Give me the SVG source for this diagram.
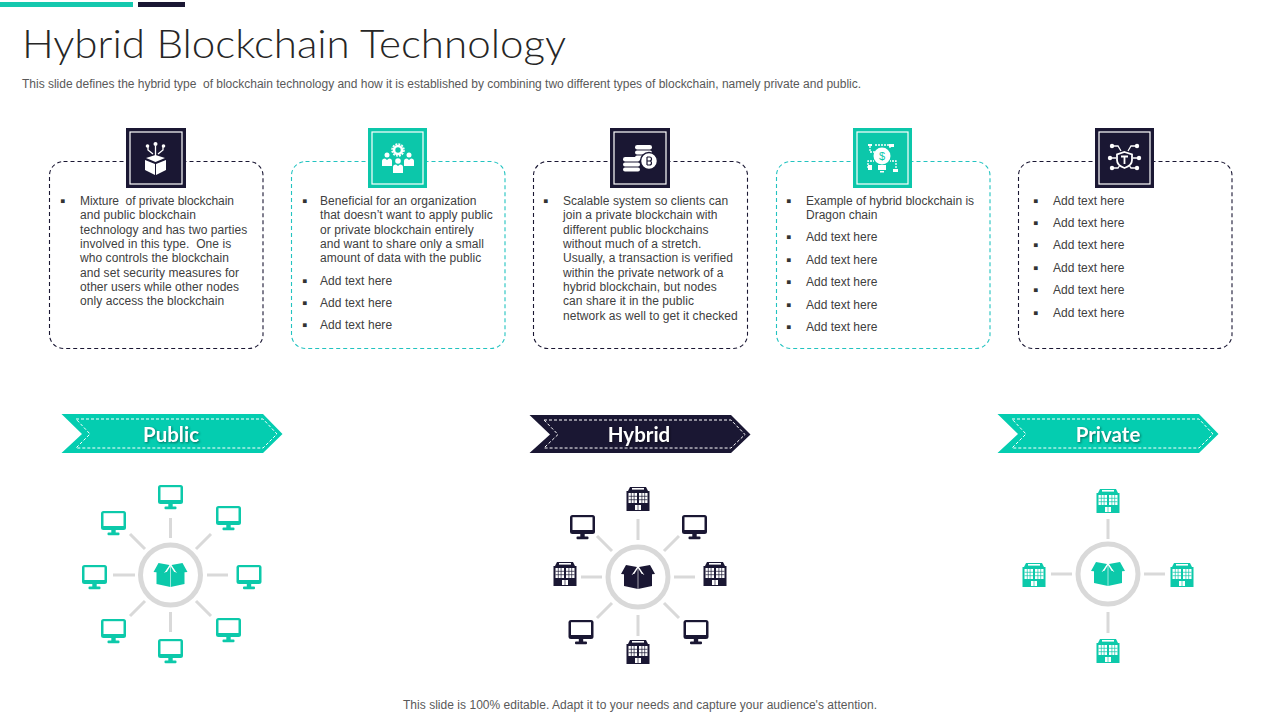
<svg xmlns="http://www.w3.org/2000/svg" width="1280" height="720" viewBox="0 0 1280 720">
<style>
text{font-family:"Liberation Sans",Arial,sans-serif;fill:#404040;font-size:12px;white-space:pre}
#card1 text,#card2 text,#card3 text{letter-spacing:.06px}
.b{font-size:15px;fill:#333}
.title{font-family:Lato,"Liberation Sans",sans-serif;font-weight:300;font-size:40px;fill:#262626}
.sub{fill:#595959}
.card{fill:#fff;stroke-width:1.1;stroke-dasharray:4 3}
.d{stroke:#1a1733}.t{stroke:#22c3c0}
.bg-d{fill:#1a1733}.bg-t{fill:#0cc7aa}
.inner{fill:none;stroke:#fff;stroke-width:1.2}
.ic{fill:#fff}.il{fill:none;stroke:#fff;stroke-width:1.3}
.banner-t{fill:#04cdb0}.banner-d{fill:#1a1733}
.bdash{fill:none;stroke:#fff;stroke-width:1;stroke-dasharray:3 2}
.blabel{font-family:Lato,"Liberation Sans",sans-serif;font-weight:700;font-size:20.500px;fill:#fff;text-anchor:middle;filter:drop-shadow(1px 1px 1px rgba(0,0,0,.45))}
.spoke{stroke:#d9d9d9;stroke-width:3;fill:none}
.ring{fill:#fff;stroke:#d9d9d9;stroke-width:5}
.teal{color:#0cc9aa}.dark{color:#1a1733}
</style>
<defs>
<g id="mon"><rect x="-12.500" y="-12" width="25" height="19" rx="2.500" fill="currentColor"/><rect x="-10" y="-9.800" width="20" height="12.800" fill="#fff"/><rect x="-2.200" y="7" width="4.400" height="3" fill="currentColor"/><rect x="-6" y="9.500" width="12" height="2.800" rx="1" fill="currentColor"/></g>
<g id="bld"><path d="M-8-12H8L10-8H-10Z" fill="currentColor"/><rect x="-6" y="-11" width="12" height="1.600" fill="#fff"/><rect x="-11.500" y="-8" width="23" height="20" fill="currentColor"/><g fill="#fff"><rect x="-9.500" y="-6" width="8.500" height="10"/><rect x="1" y="-6" width="8.500" height="10"/><rect x="-3" y="6" width="6" height="5"/></g><path d="M-9.500-2.700H-1M-9.500 .7H-1M-6.700-6V4M-3.900-6V4M1-2.700H9.500M1 .7H9.500M3.900-6V4M6.700-6V4M0 6V11" stroke="currentColor" stroke-width=".7" fill="none"/></g>
<g id="box"><path d="M-14-3H14V9L0 12-14 9Z" fill="currentColor"/><path d="M-12-12-1-10-6-2-17-3ZM12-12 1-10 6-2 17-3ZM0-9 5-1H-5Z" fill="currentColor"/><path d="M-6-2 0-10 6-2M0-10V12" stroke="#fff" stroke-width=".6" fill="none"/></g>
</defs>
<rect width="1280" height="720" fill="#fff"/>
<rect x="0" y="2" width="133" height="5" fill="#14c8ae"/>
<rect x="138" y="2" width="47" height="5" fill="#1a1733"/>
<text class="title" x="22" y="58" textLength="544" lengthAdjust="spacingAndGlyphs">Hybrid Blockchain Technology</text>
<text class="sub" x="22" y="88" textLength="839" lengthAdjust="spacing">This slide defines the hybrid type  of blockchain technology and how it is established by combining two different types of blockchain, namely private and public.</text>

<g id="connectors">
<path class="spoke" d="M113 575H135M207 575H228M170.500 518V538M170.500 612V632M130 534 145 549M196 549 211 534M130 616 145 601M196 601 211 616"/>
<path class="spoke" d="M581 577H602M674 577H695M638 519V540M638 615V636M597 536 612 551M664 551 679 536M597 618 612 603M664 603 679 618"/>
<path class="spoke" d="M1051 574H1072M1144 574H1165M1108 519V539M1108 612V633"/>
</g>

<g id="card1"><rect class="card d" x="49.500" y="161.500" width="213.500" height="187" rx="14"/><rect class="bg-d" x="126" y="128" width="60" height="60"/><rect class="inner" x="130" y="132" width="52" height="52"/>
<path class="ic" d="M145 160 155 164V175L145 170ZM166 160 156 164V175L166 170ZM146 158 155.500 155 165 158 155.500 162Z"/><path class="il" d="M155.500 146V156M148 147V150L153 154M163 147V150L158 154"/><g class="ic"><circle cx="155.500" cy="144" r="2"/><circle cx="147.500" cy="146" r="1.800"/><circle cx="163.500" cy="146" r="1.800"/></g>
<text class="b" x="60" y="206">▪</text>
<text x="80" y="205" textLength="154" lengthAdjust="spacing">Mixture  of private blockchain</text><text x="80" y="219">and public blockchain</text><text x="80" y="233.500">technology and has two parties</text><text x="80" y="248">involved in this type.  One is</text><text x="80" y="262">who controls the blockchain</text><text x="80" y="276.500">and set security measures for</text><text x="80" y="291">other users while other nodes</text><text x="80" y="305">only access the blockchain</text></g>

<g id="card2"><rect class="card t" x="291.500" y="161.500" width="213.500" height="187" rx="14"/><rect class="bg-t" x="368" y="128" width="59" height="60"/><rect class="inner" x="372" y="132" width="51" height="52"/>
<circle cx="398" cy="150" r="4" fill="none" stroke="#fff" stroke-width="2.600"/><circle cx="398" cy="150" r="6" fill="none" stroke="#fff" stroke-width="1.500" stroke-dasharray="2 1.100"/>
<g class="ic"><circle cx="387" cy="155" r="2.500"/><path d="M382 166V161Q382 158.500 385 158.500L387 160 389 158.500Q392 158.500 392 161V166Z"/><circle cx="409" cy="155" r="2.500"/><path d="M404 166V161Q404 158.500 407 158.500L409 160 411 158.500Q414 158.500 414 161V166Z"/><circle cx="398" cy="161" r="2.800"/><path d="M393 173V167Q393 164.500 396 164.500L398 166 400 164.500Q403 164.500 403 167V173Z"/></g>
<text class="b" x="302" y="206">▪</text>
<text x="320" y="205">Beneficial for an organization</text><text x="320" y="219">that doesn’t want to apply public</text><text x="320" y="233.500">or private blockchain entirely</text><text x="320" y="248">and want to share only a small</text><text x="320" y="262">amount of data with the public</text>
<text class="b" x="302" y="286">▪</text><text x="320" y="285">Add text here</text><text class="b" x="302" y="308">▪</text><text x="320" y="307">Add text here</text><text class="b" x="302" y="330">▪</text><text x="320" y="329">Add text here</text></g>

<g id="card3"><rect class="card d" x="533.500" y="161.500" width="214" height="187" rx="14"/><rect class="bg-d" x="610" y="128" width="60" height="60"/><rect class="inner" x="614" y="132" width="52" height="52"/>
<g class="ic"><rect x="635" y="145" width="17" height="4.500" rx="2.200"/><rect x="635" y="150.500" width="17" height="4" rx="2"/><rect x="635" y="155.500" width="17" height="4" rx="2"/><rect x="623" y="157" width="17" height="4.500" rx="2.200"/><rect x="623" y="162.500" width="17" height="4" rx="2"/><rect x="623" y="167.500" width="17" height="4" rx="2"/></g><circle cx="649" cy="161" r="8.500" fill="#fff" stroke="#1a1733" stroke-width="1.500"/>
<path d="M647 157V165M647 157H649.500A2 2 0 0 1 649.500 161H647M649.500 161A2 2 0 0 1 649.500 165H647" fill="none" stroke="#1a1733" stroke-width="1.200"/>
<text class="b" x="543" y="206">▪</text>
<text x="563" y="205">Scalable system so clients can</text><text x="563" y="219">join a private blockchain with</text><text x="563" y="233.500">different public blockchains</text><text x="563" y="248">without much of a stretch.</text><text x="563" y="262">Usually, a transaction is verified</text><text x="563" y="276.500">within the private network of a</text><text x="563" y="291">hybrid blockchain, but nodes</text><text x="563" y="305">can share it in the public</text><text x="563" y="319.500">network as well to get it checked</text></g>

<g id="card4"><rect class="card t" x="776.500" y="161.500" width="213.500" height="187" rx="14"/><rect class="bg-t" x="853" y="128" width="59" height="60"/><rect class="inner" x="857" y="132" width="51" height="52"/>
<circle cx="882" cy="156" r="8.500" class="ic"/><rect class="ic" x="878" y="165" width="8" height="5"/><rect class="ic" x="880" y="171" width="4" height="1.500"/>
<text x="882" y="160" text-anchor="middle" style="font-size:11px;fill:#0cc7aa">$</text>
<path class="il" d="M870 146V152H876M875 145H890M868 168V161H874M896 168V161H890M890 146V149" stroke-dasharray="2 1"/>
<g class="ic"><rect x="868" y="144" width="4" height="2"/><rect x="889" y="144" width="5" height="3"/><rect x="868" y="165" width="4" height="5"/><rect x="893" y="169" width="5" height="3"/></g>
<text class="b" x="786" y="206">▪</text>
<text x="806" y="205">Example of hybrid blockchain is</text><text x="806" y="219">Dragon chain</text>
<text class="b" x="786" y="242">▪</text><text x="806" y="241">Add text here</text><text class="b" x="786" y="265">▪</text><text x="806" y="264">Add text here</text><text class="b" x="786" y="287">▪</text><text x="806" y="286">Add text here</text><text class="b" x="786" y="310">▪</text><text x="806" y="309">Add text here</text><text class="b" x="786" y="332">▪</text><text x="806" y="331">Add text here</text></g>

<g id="card5"><rect class="card d" x="1018.500" y="161.500" width="213.500" height="187" rx="14"/><rect class="bg-d" x="1095" y="128" width="59" height="60"/><rect class="inner" x="1099" y="132" width="51" height="52"/>
<path d="M1124.500 152 1132 154.500V160C1132 164 1129 166.500 1124.500 168 1120 166.500 1117 164 1117 160V154.500Z" fill="#1a1733" stroke="#fff" stroke-width="1.800"/>
<path d="M1121 156.500H1128M1124.500 156.500V164" stroke="#fff" stroke-width="1.800" fill="none"/>
<path class="il" d="M1112 146H1118L1121 151M1137 146H1131L1128 151M1110 158H1116M1139 158H1133M1112 168H1118L1120 165M1137 168H1131L1129 165"/>
<g class="ic"><circle cx="1112" cy="146" r="2.200"/><circle cx="1137" cy="146" r="2.200"/><circle cx="1110" cy="158" r="2.200"/><circle cx="1139" cy="158" r="2.200"/><circle cx="1112" cy="168" r="2.200"/><circle cx="1137" cy="168" r="2.200"/></g>
<text class="b" x="1033" y="206">▪</text><text x="1053" y="205">Add text here</text><text class="b" x="1033" y="228">▪</text><text x="1053" y="227">Add text here</text><text class="b" x="1033" y="250">▪</text><text x="1053" y="249">Add text here</text><text class="b" x="1033" y="273">▪</text><text x="1053" y="272">Add text here</text><text class="b" x="1033" y="295">▪</text><text x="1053" y="294">Add text here</text><text class="b" x="1033" y="318">▪</text><text x="1053" y="317">Add text here</text></g>

<g id="banner-public"><path class="banner-t" d="M61.500 414H263L282.500 434 263 453H61.500L82 434Z"/><path class="bdash" d="M76 419H263L277 434 263 448H76L90 434Z"/><text class="blabel" x="171" y="441.500">Public</text></g>
<g id="banner-hybrid"><path class="banner-d" d="M529.500 415H731L750.500 434.500 731 453H529.500L550 434.500Z"/><path class="bdash" d="M544 420H731L745 434.500 731 448H544L558 434.500Z"/><text class="blabel" x="639" y="441.500">Hybrid</text></g>
<g id="banner-private"><path class="banner-t" d="M997.500 414H1199L1218.500 434 1199 453H997.500L1018 434Z"/><path class="bdash" d="M1012 419H1199L1213 434 1199 448H1012L1026 434Z"/><text class="blabel" x="1108" y="441.500">Private</text></g>

<g id="hub-public" class="teal"><circle class="ring" cx="170.500" cy="575" r="30"/><use href="#box" x="170.500" y="575"/></g>
<g id="public-nodes" class="teal"><use href="#mon" x="170.500" y="497"/><use href="#mon" x="228.500" y="518"/><use href="#mon" x="249" y="577"/><use href="#mon" x="228.500" y="630"/><use href="#mon" x="170.500" y="651"/><use href="#mon" x="113.500" y="631"/><use href="#mon" x="94.500" y="577"/><use href="#mon" x="113.500" y="523"/></g>

<g id="hub-hybrid" class="dark"><circle class="ring" cx="638" cy="577" r="30"/><use href="#box" x="638" y="577"/></g>
<g id="hybrid-nodes" class="dark"><use href="#bld" x="638" y="499"/><use href="#bld" x="565" y="574"/><use href="#bld" x="715" y="574"/><use href="#bld" x="638" y="652"/><use href="#mon" x="582.500" y="527"/><use href="#mon" x="694.500" y="527"/><use href="#mon" x="581" y="632"/><use href="#mon" x="696" y="632"/></g>

<g id="hub-private" class="teal"><circle class="ring" cx="1108" cy="574" r="30"/><use href="#box" x="1108" y="574"/></g>
<g id="private-nodes" class="teal"><use href="#bld" x="1108" y="501"/><use href="#bld" x="1034" y="575"/><use href="#bld" x="1182" y="575"/><use href="#bld" x="1108" y="651"/></g>

<text class="sub" x="640" y="709" text-anchor="middle" textLength="474" lengthAdjust="spacing">This slide is 100% editable. Adapt it to your needs and capture your audience's attention.</text>
</svg>
